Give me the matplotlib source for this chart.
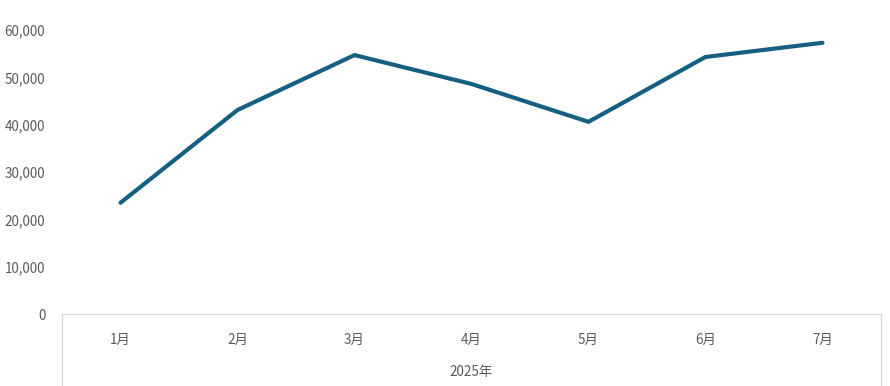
import matplotlib
matplotlib.use("Agg")
import matplotlib.pyplot as plt
from matplotlib.lines import Line2D
from matplotlib.ticker import FuncFormatter

plt.rcParams['font.family'] = ['Noto Sans CJK JP', 'DejaVu Sans']

# --- data ---
months = ['1月', '2月', '3月', '4月', '5月', '6月', '7月']
values = [23500, 43100, 54700, 48600, 40600, 54300, 57300]
year_label = '2025年'
y_ticks = [0, 10000, 20000, 30000, 40000, 50000, 60000]

W, H = 890, 386
fig = plt.figure(figsize=(W / 100, H / 100), dpi=100)
left, right, top, bottom = 62, 881, 30, 314
ax = fig.add_axes([left / W, (H - bottom) / H, (right - left) / W, (bottom - top) / H])

txt = '#595959'
grid_c = '#D9D9D9'

x = list(range(len(months)))
ax.plot(x, values, color='#156082', lw=3, solid_capstyle='round', solid_joinstyle='round')

ax.set_xlim(-0.5, len(months) - 0.5)
ax.set_ylim(0, 60000)
ax.set_yticks(y_ticks)
ax.yaxis.set_major_formatter(FuncFormatter(lambda v, p: f'{int(v):,}'))
ax.set_xticks(x)
ax.set_xticklabels(months)
ax.tick_params(axis='both', length=0, colors=txt, labelsize=9.7)
ax.tick_params(axis='x', pad=13.5)
ax.tick_params(axis='y', pad=12)
for s in ax.spines.values():
    s.set_visible(False)

# multi-level category axis box
def fx(px): return px / W
def fy(py): return 1 - py / H
fig.add_artist(Line2D([fx(left), fx(right)], [fy(bottom), fy(bottom)], color=grid_c, lw=1))
fig.add_artist(Line2D([fx(left), fx(left)], [fy(bottom), 0], color=grid_c, lw=1))
fig.add_artist(Line2D([fx(right), fx(right)], [fy(bottom), 0], color=grid_c, lw=1))

fig.text(fx((left + right) / 2), fy(372), year_label, ha='center', va='center',
         color=txt, fontsize=9.7)

fig.savefig('out.png', dpi=100)
